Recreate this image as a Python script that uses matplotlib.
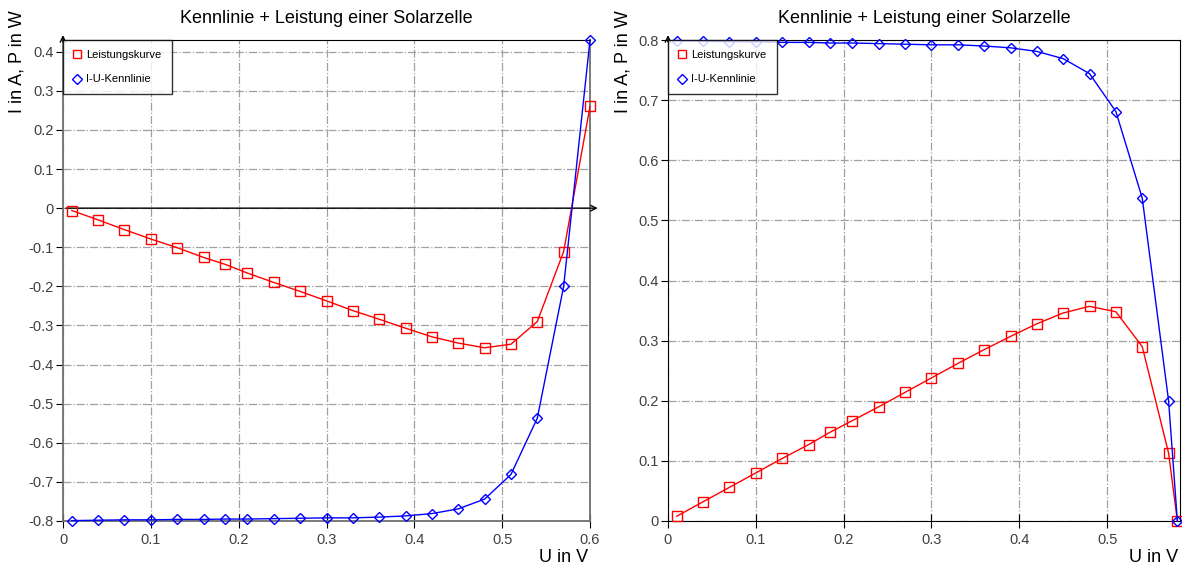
import matplotlib
matplotlib.use("Agg")
import matplotlib.pyplot as plt
from matplotlib.lines import Line2D

plt.rcParams['font.family'] = ['Liberation Sans', 'DejaVu Sans']

# Messwerte Spannung in V
u_links = [0.01, 0.04, 0.07, 0.10, 0.13, 0.16, 0.185, 0.21, 0.24, 0.27, 0.30,
           0.33, 0.36, 0.39, 0.42, 0.45, 0.48, 0.51, 0.54, 0.57, 0.60]
u_rechts = [0.01, 0.04, 0.07, 0.10, 0.13, 0.16, 0.185, 0.21, 0.24, 0.27, 0.30,
            0.33, 0.36, 0.39, 0.42, 0.45, 0.48, 0.51, 0.54, 0.57, 0.58]

# linkes Diagramm (Verbraucher-Zaehlpfeilsystem)
i_links = [-0.799, -0.798, -0.797, -0.797, -0.796, -0.796, -0.795, -0.795, -0.794, -0.793, -0.792,
           -0.792, -0.790, -0.787, -0.781, -0.769, -0.744, -0.681, -0.537, -0.200, 0.430]
p_links = [-0.006, -0.030, -0.055, -0.079, -0.101, -0.126, -0.144, -0.166, -0.190, -0.213, -0.237,
           -0.262, -0.284, -0.307, -0.329, -0.345, -0.357, -0.348, -0.290, -0.111, 0.260]

# rechtes Diagramm
i_rechts = [0.799, 0.798, 0.797, 0.797, 0.796, 0.796, 0.795, 0.795, 0.794, 0.793, 0.792,
            0.792, 0.790, 0.787, 0.781, 0.769, 0.744, 0.681, 0.537, 0.200, 0.0]
p_rechts = [0.008, 0.032, 0.056, 0.080, 0.104, 0.127, 0.148, 0.167, 0.190, 0.214, 0.238,
            0.262, 0.285, 0.307, 0.328, 0.346, 0.357, 0.348, 0.290, 0.113, 0.0]

titel = "Kennlinie + Leistung einer Solarzelle"
rot = "#ff0000"
blau = "#0000ff"
grau = "#a0a0a0"

W, H = 1182, 572
fig = plt.figure(figsize=(W / 100, H / 100), dpi=100)
fig.patch.set_facecolor("white")


def panel(links_px, breite_px, u, i, p, xmax, ymin, ymax, yticks, null_achse):
    ax = fig.add_axes([links_px / W, (H - 521) / H, breite_px / W, 481 / H])
    ax.plot(u, p, color=rot, lw=1, marker="s", ms=7, mfc="none", mec=rot, mew=1, clip_on=False, zorder=4)
    ax.plot(u, i, color=blau, lw=1, marker="D", ms=5.5, mfc="none", mec=blau, mew=1, clip_on=False, zorder=4)
    ax.set_xlim(0, xmax)
    ax.set_ylim(ymin, ymax)
    xt = [0, 0.1, 0.2, 0.3, 0.4, 0.5, 0.6] if xmax >= 0.6 else [0, 0.1, 0.2, 0.3, 0.4, 0.5]
    ax.set_xticks(xt)
    ax.set_xticklabels(["0" if t == 0 else ("%.1f" % t) for t in xt])
    ax.set_yticks(yticks)
    ax.set_yticklabels(["0" if abs(t) < 1e-9 else ("%.1f" % t) for t in yticks])
    ax.grid(True, color=grau, linestyle="-.", linewidth=0.9)
    ax.set_axisbelow(True)
    ax.tick_params(axis="both", labelsize=10.5, labelcolor="#404040", color="black", length=5, pad=2)
    ax.tick_params(axis="x", direction="inout", length=10, pad=4)
    if null_achse:
        for s in ["bottom", "right", "left"]:
            ax.spines[s].set_color("#707070")
            ax.spines[s].set_linewidth(1.3)
        ax.spines["top"].set_color("black")
        ax.annotate("", xy=(xmax + 0.012, 0), xytext=(0, 0), xycoords="data",
                    arrowprops=dict(arrowstyle="->", color="black", lw=1), annotation_clip=False)
    else:
        for s in ["bottom", "right", "left", "top"]:
            ax.spines[s].set_color("black")
    ax.annotate("", xy=(0, ymax + (ymax - ymin) * 0.016), xytext=(0, ymax - (ymax - ymin) * 0.01),
                xycoords="data",
                arrowprops=dict(arrowstyle="->", color="black", lw=1), annotation_clip=False)
    ax.set_title(titel, fontsize=13, pad=12)
    # Legende
    griffe = [Line2D([], [], ls="none", marker="s", ms=6, mfc="none", mec=rot, mew=1),
              Line2D([], [], ls="none", marker="D", ms=5, mfc="none", mec=blau, mew=1)]
    leg = ax.legend(griffe, ["Leistungskurve", "I-U-Kennlinie"], loc="upper left", fontsize=8,
                    frameon=True, fancybox=False, borderaxespad=0, handlelength=0.8,
                    handletextpad=0.4, borderpad=0.9, labelspacing=1.3)
    leg.get_frame().set_edgecolor("black")
    leg.get_frame().set_linewidth(1)
    leg.set_zorder(6)
    # Achsenbeschriftungen
    fig.text((links_px - 54) / W, 1 - 10 / H, "I in A, P in W", rotation=90, ha="left", va="top", fontsize=13)
    fig.text((links_px + breite_px - 2) / W, 1 - 558 / H, "U in V", ha="right", va="center", fontsize=13)
    return ax


panel(63, 527, u_links, i_links, p_links, 0.6, -0.8, 0.43,
      [-0.8, -0.7, -0.6, -0.5, -0.4, -0.3, -0.2, -0.1, 0, 0.1, 0.2, 0.3, 0.4], True)
panel(668, 512, u_rechts, i_rechts, p_rechts, 0.583, 0, 0.8,
      [0, 0.1, 0.2, 0.3, 0.4, 0.5, 0.6, 0.7, 0.8], False)

fig.savefig("out.png", dpi=100, facecolor="white")
